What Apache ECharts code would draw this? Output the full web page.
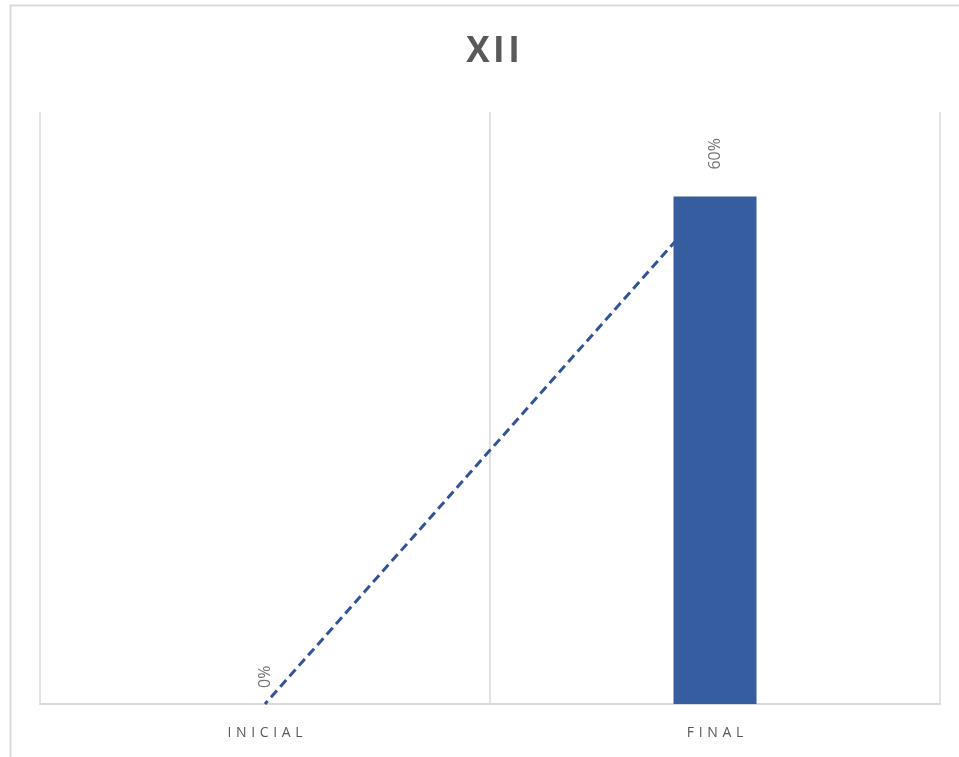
<!DOCTYPE html>
<html>
<head>
<meta charset="utf-8">
<script src="https://cdn.jsdelivr.net/npm/echarts@6/dist/echarts.min.js"></script>
<style>
  html, body { margin: 0; padding: 0; background: #fff; }
  #chart { width: 959px; height: 757px; }
</style>
</head>
<body>
<div id="chart"></div>
<script>
// datos del gráfico
const titulo = 'XII';
const categorias = ['INICIAL', 'FINAL'];
const valores = [0, 0.6];
const tendencia = [0, 0.6]; // línea de tendencia lineal

const chart = echarts.init(document.getElementById('chart'));

// separa letras como en el original (espaciado)
const espaciar = s => s.split('').join('\u2009\u2009');

// etiqueta un poco más separada cuando la barra tiene altura
const datosBarra = valores.map(v => ({
  value: v,
  label: { distance: v > 0 ? 27 : 16 }
}));

const option = {
  backgroundColor: '#fff',
  animation: false,
  title: {
    text: titulo.split('').join('\u200a'),
    left: 488,
    top: 30,
    textAlign: 'center',
    textStyle: {
      color: '#595959',
      fontSize: 35,
      fontWeight: 'bold',
      fontFamily: 'Open Sans'
    }
  },
  graphic: [{
    type: 'rect',
    silent: true,
    shape: { x: 10.5, y: 5.5, width: 980, height: 790 },
    style: { fill: 'none', stroke: '#d9d9d9', lineWidth: 2 }
  }],
  grid: { left: 40, right: 19, top: 112, bottom: 53 },
  xAxis: {
    type: 'category',
    data: categorias,
    axisTick: { show: false },
    axisLine: { lineStyle: { color: '#d9d9d9', width: 2 } },
    splitLine: { show: true, lineStyle: { color: '#d9d9d9', width: 1.5 } },
    axisLabel: {
      color: '#595959',
      fontSize: 14,
      fontFamily: 'Open Sans',
      margin: 22,
      formatter: espaciar
    }
  },
  yAxis: {
    type: 'value',
    min: 0,
    max: 0.7,
    show: false,
    splitLine: { show: false }
  },
  series: [
    {
      name: 'valor',
      type: 'bar',
      data: datosBarra,
      barWidth: 83,
      z: 3,
      itemStyle: { color: '#355d9f' },
      label: {
        show: true,
        position: 'top',
        rotate: 90,
        align: 'left',
        verticalAlign: 'middle',
        color: '#737373',
        fontSize: 16,
        fontFamily: 'Open Sans',
        formatter: p => Math.round(p.value * 100) + '%'
      }
    },
    {
      name: 'tendencia',
      type: 'line',
      data: tendencia,
      z: 2,
      symbol: 'none',
      silent: true,
      lineStyle: { color: '#2f5597', width: 3, type: [9, 5], dashOffset: 5 }
    }
  ]
};

chart.setOption(option);
</script>
</body>
</html>
